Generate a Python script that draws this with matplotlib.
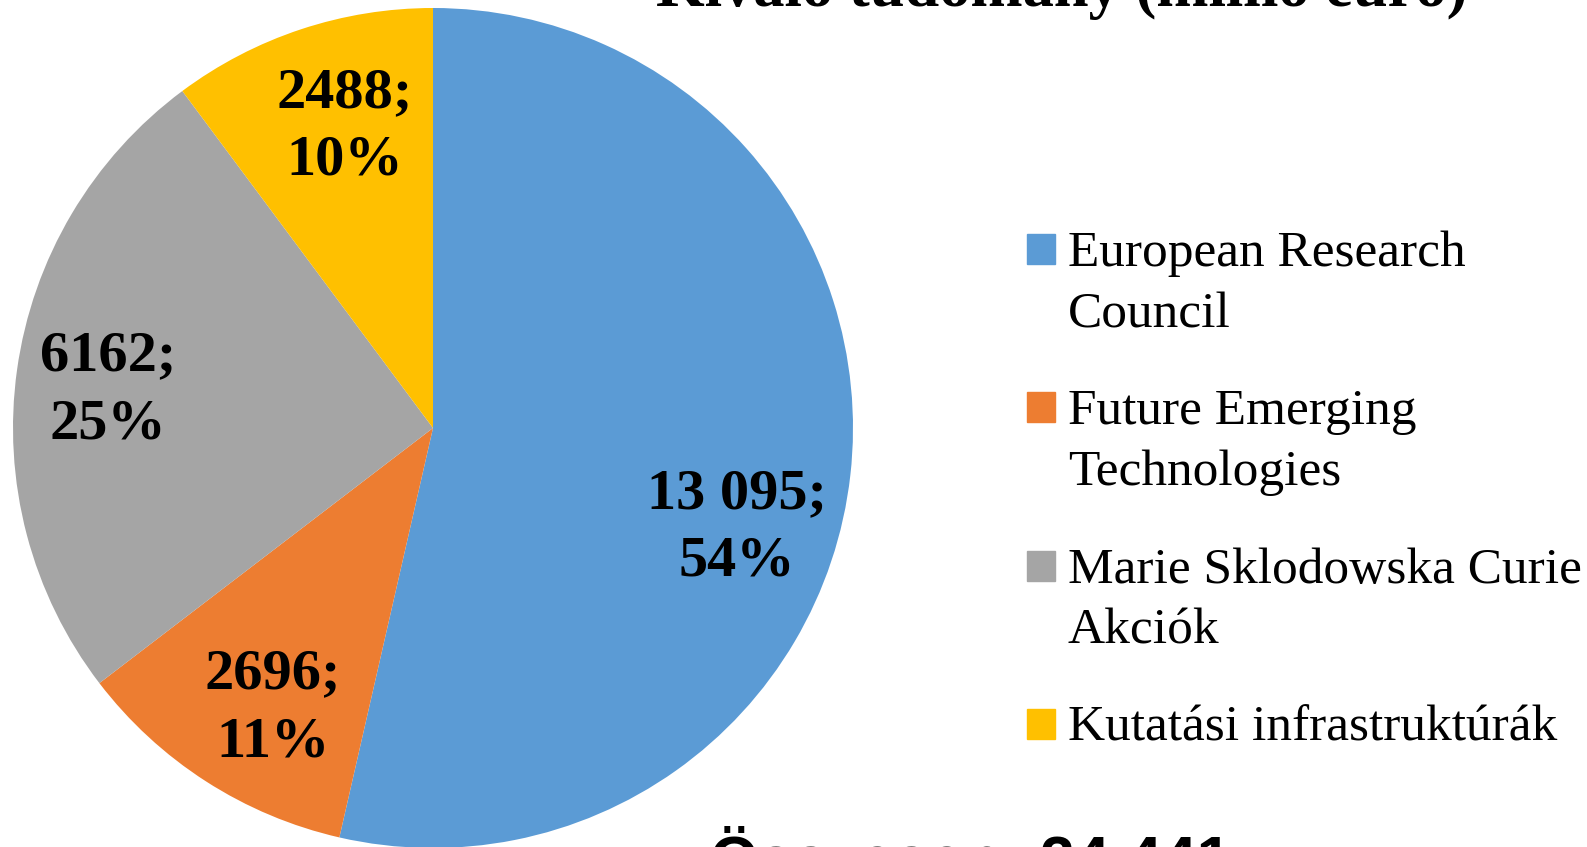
import matplotlib.pyplot as plt
from matplotlib.patches import Rectangle

# data
categories = [["European Research", "Council"], ["Future Emerging", "Technologies"],
              ["Marie Sklodowska Curie", "Akciók"], ["Kutatási infrastruktúrák"]]
values = [13095, 2696, 6162, 2488]
value_labels = ["13 095", "2696", "6162", "2488"]
colors = ["#5B9BD5", "#ED7D31", "#A5A5A5", "#FFC000"]
title = "Kiváló tudomány (millió euró)"
total_label = "Összesen: 24 441"

# label positions inside the pie (data units, radius = 1)
label_pos = [(0.724, -0.238), (-0.381, -0.667), (-0.774, 0.09), (-0.21, 0.717)]

W, H = 1587, 847
fig = plt.figure(figsize=(W / 100, H / 100), dpi=100)

# pie axes: centre (433, 428) px from top-left, radius 420 px
cx, cy, r = 433, 428, 420
ax = fig.add_axes([(cx - r) / W, (H - cy - r) / H, 2 * r / W, 2 * r / H])
ax.pie(values, colors=colors, startangle=90, counterclock=False, radius=1,
       wedgeprops=dict(linewidth=0))
ax.set_xlim(-1, 1)
ax.set_ylim(-1, 1)
ax.set_aspect("equal")
ax.axis("off")

total = sum(values)
for v, lab, (x, y) in zip(values, value_labels, label_pos):
    pct = round(100 * v / total)
    ax.text(x, y, f"{lab};\n{pct}%", ha="center", va="center",
            fontsize=42, fontweight="bold", family="Liberation Serif",
            linespacing=1.4)

# title (cut off at the top)
fig.text(1062 / W, 1 - 6 / H, title, ha="center", va="baseline",
         fontsize=45, fontweight="bold", family="Liberation Serif")

# legend drawn by hand, one text per line
for i, (lines, c) in enumerate(zip(categories, colors)):
    base = 266 + i * 158.3
    fig.patches.append(Rectangle((1027 / W, 1 - (base - 2) / H), 28 / W, 30 / H,
                                 transform=fig.transFigure, color=c))
    for j, line in enumerate(lines):
        fig.text(1068 / W, 1 - (base + j * 61) / H, line, ha="left", va="baseline",
                 fontsize=37, family="Liberation Serif")

# total (cut off at the bottom)
fig.text(710 / W, 1 - 879 / H, total_label, ha="left", va="baseline",
         fontsize=45, fontweight="bold", family="Liberation Sans")

fig.savefig("out.png", dpi=100)
